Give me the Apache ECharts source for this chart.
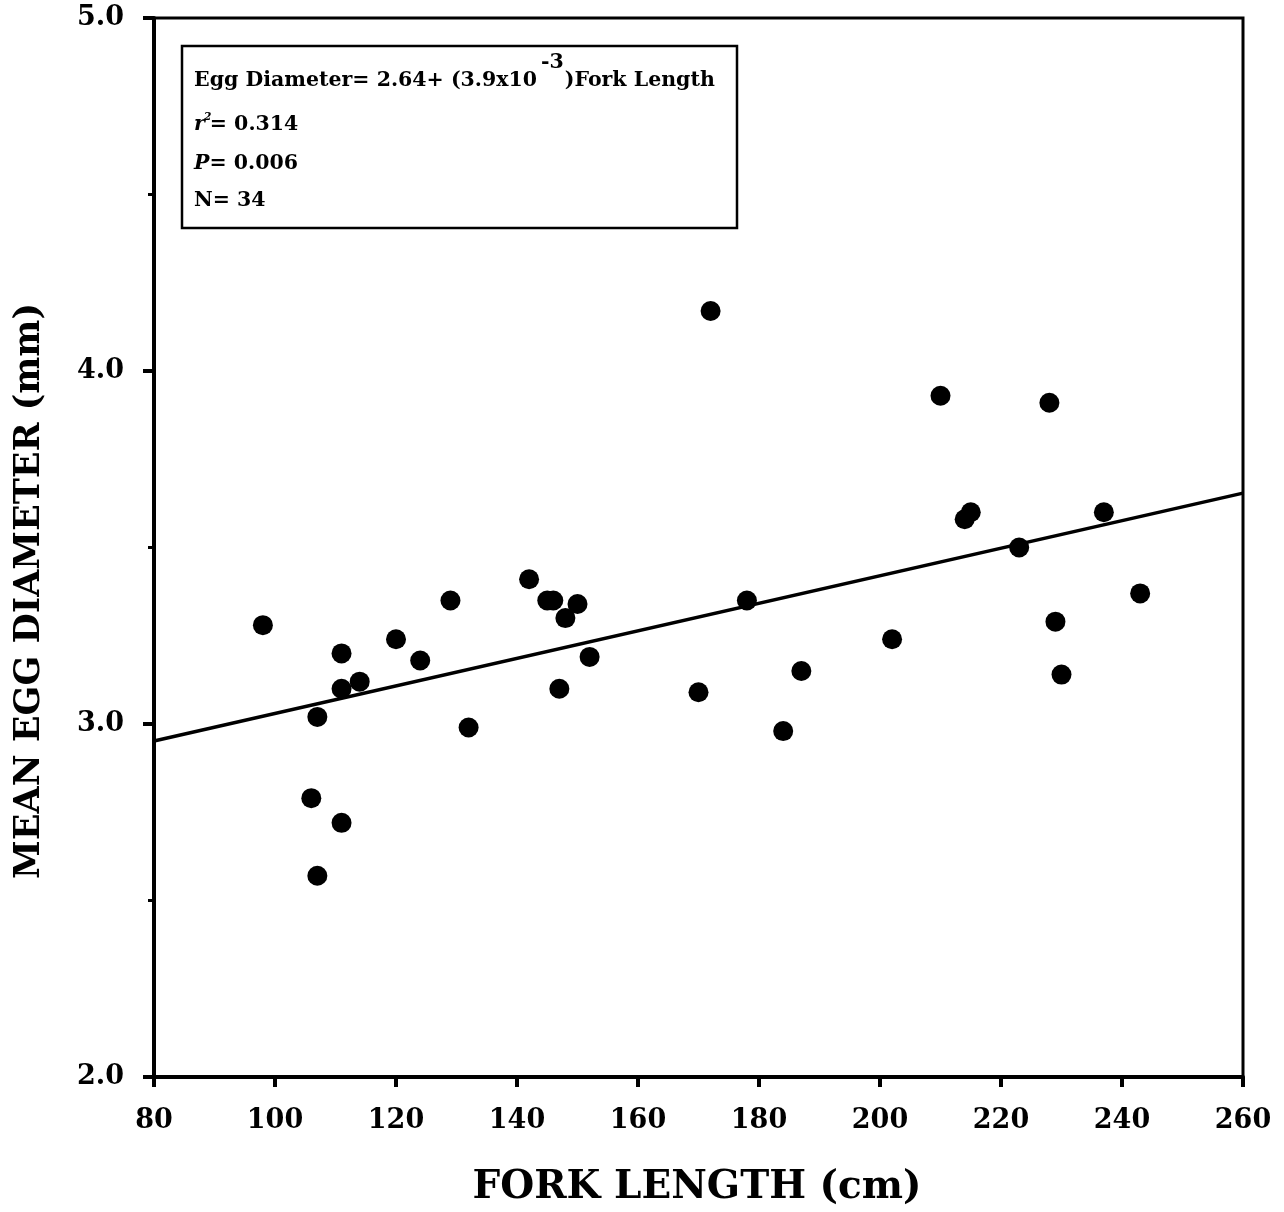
<!DOCTYPE html>
<html>
<head>
<meta charset="utf-8">
<script src="https://cdn.jsdelivr.net/npm/echarts@6/dist/echarts.min.js"></script>
<style>
  html, body { margin: 0; padding: 0; background: #fff; }
  #chart { width: 1284px; height: 1212px; }
</style>
</head>
<body>
<div id="chart"></div>
<script>
// Fork length (cm) and mean egg diameter (mm), one entry per fish
const forkLength = [98, 106, 107, 107, 111, 111, 111, 114, 120, 124, 129, 132,
  142, 145, 146, 148, 147, 150, 152, 170, 172, 178, 184, 187, 202, 210, 214,
  215, 223, 228, 229, 230, 237, 243];
const eggDiameter = [3.28, 2.79, 2.57, 3.02, 3.20, 3.10, 2.72, 3.12, 3.24, 3.18,
  3.35, 2.99, 3.41, 3.35, 3.35, 3.30, 3.10, 3.34, 3.19, 3.09, 4.17, 3.35, 2.98,
  3.15, 3.24, 3.93, 3.58, 3.60, 3.50, 3.91, 3.29, 3.14, 3.60, 3.37];

// Least-squares fit reported in the inset
const fitIntercept = 2.64;
const fitSlope = 0.0039;
const fitRange = [80, 260];

// Axis ticks
const xTicks = [80, 100, 120, 140, 160, 180, 200, 220, 240, 260];
const yTicks = [2.0, 3.0, 4.0, 5.0];

const points = forkLength.map((x, i) => [x, eggDiameter[i]]);
const fitLine = fitRange.map(x => [x, fitIntercept + fitSlope * x]);

const FAMILY = '"DejaVu Serif", "Liberation Serif", serif';
const INSET_SIZE = 20.5;

// Measure text so the superscripts can follow the preceding run
const measureCtx = document.createElement('canvas').getContext('2d');
function textWidth(str, size, italic) {
  measureCtx.font = (italic ? 'italic ' : '') + 'bold ' + size + 'px ' + FAMILY;
  return measureCtx.measureText(str).width;
}

function insetText(x, y, text, size, italic) {
  return {
    type: 'text', z: 11, x: x, y: y,
    style: {
      text: text, fill: '#000', verticalAlign: 'middle', align: 'left',
      fontFamily: FAMILY, fontWeight: 'bold', fontSize: size,
      fontStyle: italic ? 'italic' : 'normal'
    }
  };
}

// Inset: regression equation and statistics
const insetX = 194;
const eqHead = 'Egg Diameter= 2.64+ (3.9x10';
const eqSup = '-3';
const eqTail = ')Fork Length';
const headW = textWidth(eqHead, INSET_SIZE, false);
const supX = insetX + headW + 4;
const supW = textWidth(eqSup, INSET_SIZE, false);
const rW = textWidth('r', INSET_SIZE, true);
const pW = textWidth('P', INSET_SIZE, true);

const insetItems = [
  {
    type: 'rect', z: 10,
    shape: { x: 182, y: 46, width: 555, height: 182 },
    style: { fill: '#fff', stroke: '#000', lineWidth: 2.5 }
  },
  insetText(insetX, 81, eqHead, INSET_SIZE, false),
  insetText(supX, 63, eqSup, INSET_SIZE, false),
  insetText(supX + supW + 1, 81, eqTail, INSET_SIZE, false),
  insetText(insetX, 125, 'r', INSET_SIZE, true),
  insetText(insetX + rW - 1, 117, '2', 11, true),
  insetText(insetX + rW + 5, 125, '= 0.314', INSET_SIZE, false),
  insetText(insetX, 164, 'P', INSET_SIZE, true),
  insetText(insetX + pW, 164, '= 0.006', INSET_SIZE, false),
  insetText(insetX, 201, 'N= 34', INSET_SIZE, false)
];

const chart = echarts.init(document.getElementById('chart'), null, { renderer: 'canvas' });

chart.setOption({
  animation: false,
  backgroundColor: '#fff',
  grid: {
    left: 154, right: 41, top: 18, bottom: 135,
    show: true, borderColor: '#000', borderWidth: 3, backgroundColor: 'transparent'
  },
  xAxis: {
    type: 'value',
    min: xTicks[0], max: xTicks[xTicks.length - 1], interval: 20,
    axisLine: { show: true, onZero: false, lineStyle: { color: '#000', width: 4 } },
    axisTick: { show: true, inside: false, length: 10, lineStyle: { color: '#000', width: 4 } },
    splitLine: { show: false },
    axisLabel: {
      margin: 30, color: '#000', fontFamily: FAMILY, fontWeight: 'bold', fontSize: 27,
      formatter: v => String(v)
    }
  },
  yAxis: {
    type: 'value',
    min: yTicks[0], max: yTicks[yTicks.length - 1], interval: 1,
    axisLine: { show: true, onZero: false, lineStyle: { color: '#000', width: 4 } },
    axisTick: { show: true, inside: false, length: 11, lineStyle: { color: '#000', width: 4 } },
    minorTick: { show: true, splitNumber: 2, length: 6, lineStyle: { color: '#000', width: 3 } },
    splitLine: { show: false },
    axisLabel: {
      margin: 30, color: '#000', fontFamily: FAMILY, fontWeight: 'bold', fontSize: 27,
      formatter: v => v.toFixed(1)
    }
  },
  series: [
    {
      type: 'line',
      data: fitLine,
      showSymbol: false,
      symbol: 'none',
      lineStyle: { color: '#000', width: 3.5 },
      z: 2
    },
    {
      type: 'scatter',
      data: points,
      symbol: 'circle',
      symbolSize: 20,
      itemStyle: { color: '#000', opacity: 1 },
      z: 3
    }
  ],
  graphic: insetItems.concat([
    {
      type: 'text', z: 11, x: 697, y: 1188,
      style: {
        text: 'FORK LENGTH (cm)',
        fill: '#000', align: 'center', verticalAlign: 'middle',
        fontFamily: FAMILY, fontWeight: 'bold', fontSize: 39
      }
    },
    {
      type: 'text', z: 11, x: 30, y: 591, rotation: Math.PI / 2,
      style: {
        text: 'MEAN EGG DIAMETER (mm)',
        fill: '#000', align: 'center', verticalAlign: 'middle',
        fontFamily: FAMILY, fontWeight: 'bold', fontSize: 35
      }
    }
  ])
});
</script>
</body>
</html>
